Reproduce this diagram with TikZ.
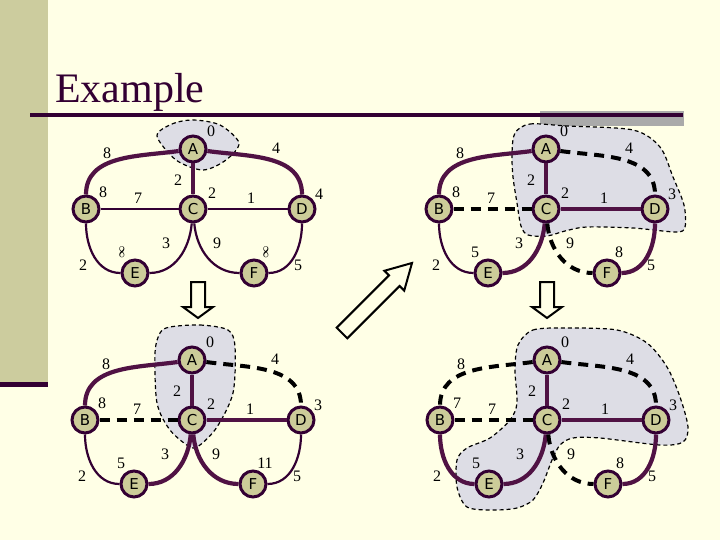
\documentclass[tikz,border=0pt]{standalone}
\usepackage{fontspec}
\setmainfont{Liberation Serif}
\newfontfamily\vertexfont{DejaVu Sans}
\usepackage{amsmath,amssymb}
\usetikzlibrary{positioning, calc}

\definecolor{slidebg}{RGB}{255,255,230}
\definecolor{sidebar}{RGB}{204,204,158}
\definecolor{plum}{RGB}{51,0,51}
\definecolor{pathplum}{RGB}{80,18,68}
\definecolor{vertexfill}{RGB}{204,204,153}
\definecolor{cloud}{RGB}{221,221,229}
\definecolor{shadowgrey}{RGB}{170,170,170}

\tikzset{
    vertex/.style={circle, draw=plum, line width=3pt, fill=vertexfill, minimum size=26pt, inner sep=0pt, font=\vertexfont\fontsize{15}{15}\selectfont},
    weight/.style={inner sep=0pt, font=\fontsize{16}{16}\selectfont},
    spath/.style={draw=pathplum, line width=4.2pt},
    plainedge/.style={draw=plum, line width=2.2pt},
    tentative/.style={draw=black, line width=4pt, dash pattern=on 10pt off 7pt},
    visited/.style={draw=black, line width=1.2pt, dash pattern=on 4pt off 3pt, fill=cloud},
    bigarrow/.style={draw=black, line width=2pt, fill=slidebg, line join=miter}
}

\newcommand{\rinf}{\rotatebox{90}{\fontsize{11}{11}\selectfont$\boldsymbol{\infty}$}}

% one copy of the graph: #1 tag, #2-#7 distances of A..F
\newcommand{\wgraph}[7]{%
    % Nodes
    \node[vertex] (A#1) at (193,-149) {A};
    \node[vertex] (B#1) at (86,-209) {B};
    \node[vertex] (C#1) at (193,-209) {C};
    \node[vertex] (D#1) at (302,-209) {D};
    \node[vertex] (E#1) at (135,-273) {E};
    \node[vertex] (F#1) at (254,-273) {F};
    % Edge weights
    \node[weight] (wab#1) at (107,-153) {8};
    \node[weight] (wad#1) at (276,-148) {4};
    \node[weight] (wac#1) at (178,-180) {2};
    \node[weight] (wbc#1) at (138,-198) {7};
    \node[weight] (wcd#1) at (251,-198) {1};
    \node[weight] (wbe#1) at (83,-265) {2};
    \node[weight] (wce#1) at (166,-243) {3};
    \node[weight] (wcf#1) at (217,-243) {9};
    \node[weight] (wdf#1) at (298,-265) {5};
    % Distances
    \node[weight] (dA#1) at (211,-131) {#2};
    \node[weight] (dB#1) at (103,-192) {#3};
    \node[weight] (dC#1) at (212,-193) {#4};
    \node[weight] (dD#1) at (319,-194) {#5};
    \node[weight] (dE#1) at (122,-252) {#6};
    \node[weight] (dF#1) at (266,-252) {#7};
}

\begin{document}
\begin{tikzpicture}[x=1pt, y=1pt]
    % Slide
    \fill[slidebg] (0,0) rectangle (720,-540);
    \useasboundingbox (0,0) rectangle (720,-540);
    \fill[sidebar] (0,0) rectangle (48,-382);
    \fill[plum] (0,-382) rectangle (48,-387);
    \fill[shadowgrey] (540,-111) rectangle (684,-126);
    \fill[plum] (30,-113) rectangle (683,-117);
    \node[anchor=base west, inner sep=0pt, text=plum, font=\fontsize{42}{42}\selectfont] (title) at (55,-103) {Example};

    % Visited sets
    \draw[visited] plot[smooth cycle] coordinates {(157,-136) (172,-124) (193,-120) (220,-125) (239,-143) (226,-160) (203,-170) (176,-160)};
    \draw[visited] plot[smooth cycle] coordinates {(515,-133) (530,-124) (567,-126) (633,-130) (660,-147) (673,-177) (684,-205) (685,-227) (676,-232) (633,-228) (587,-227) (565,-231) (547,-236) (528,-235) (521,-226) (517,-203) (513,-177) (512,-153)};
    \draw[visited] plot[smooth cycle] coordinates {(170,-327) (200,-325) (228,-330) (235,-347) (233,-393) (217,-427) (200,-445) (190,-447) (170,-430) (157,-403) (155,-353) (160,-333)};
    \draw[visited] plot[smooth cycle] coordinates {(518,-345) (533,-330) (567,-328) (617,-330) (647,-343) (667,-367) (680,-397) (688,-427) (683,-442) (660,-445) (600,-438) (573,-438) (560,-445) (552,-460) (543,-483) (533,-500) (517,-508) (493,-510) (467,-507) (457,-487) (457,-460) (467,-448) (490,-438) (510,-420) (517,-403) (515,-370)};

    % Graphs
    \begin{scope}
        \wgraph{1}{0}{8}{2}{4}{\rinf}{\rinf}
    \end{scope}
    \begin{scope}[shift={(353,0)}]
        \wgraph{2}{0}{8}{2}{3}{5}{8}
    \end{scope}
    \begin{scope}[shift={(-1,-211)}]
        \wgraph{3}{0}{8}{2}{3}{5}{11}
    \end{scope}
    \begin{scope}[shift={(354,-211)}]
        \wgraph{4}{0}{7}{2}{3}{5}{8}
    \end{scope}

    % Edges
    \foreach \p/\ab/\ad/\ac/\bc/\cd/\be/\ce/\cf/\df in {
        1/spath/spath/spath/plainedge/plainedge/plainedge/plainedge/plainedge/plainedge,
        2/spath/tentative/spath/tentative/spath/plainedge/spath/tentative/spath,
        3/spath/tentative/spath/tentative/spath/plainedge/spath/spath/plainedge,
        4/tentative/tentative/spath/tentative/spath/spath/spath/tentative/spath}{
        \draw[\ab] (A\p) to[out=188, in=90] (B\p);
        \draw[\ad] (A\p) to[out=-8, in=90] (D\p);
        \draw[\ac] (A\p) -- (C\p);
        \draw[\bc] (B\p) -- (C\p);
        \draw[\cd] (C\p) -- (D\p);
        \draw[\be] (B\p) to[out=-90, in=180] (E\p);
        \draw[\ce] (C\p) to[out=-95, in=0] (E\p);
        \draw[\cf] (C\p) to[out=-85, in=180] (F\p);
        \draw[\df] (D\p) to[out=-90, in=0] (F\p);
    }

    % Step arrows
    \draw[bigarrow] (191,-282) -- (205,-282) -- (205,-307) -- (213,-307) -- (198,-318) -- (183,-307) -- (191,-307) -- cycle;
    \draw[bigarrow] (540,-282) -- (554,-282) -- (554,-307) -- (562,-307) -- (547,-318) -- (532,-307) -- (540,-307) -- cycle;
    \draw[bigarrow, shift={(342,-333)}, rotate=45] (0,-7.5) -- (74,-7.5) -- (74,-14) -- (99,0) -- (74,14) -- (74,7.5) -- (0,7.5) -- cycle;
\end{tikzpicture}
\end{document}
